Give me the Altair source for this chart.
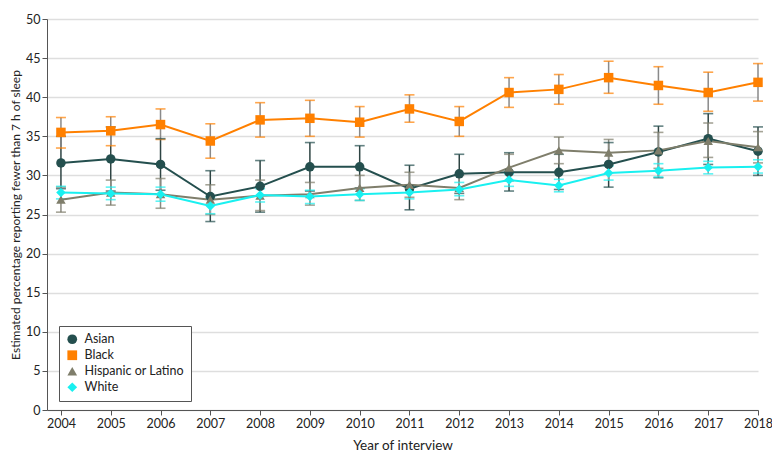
import altair as alt
import pandas as pd

years = list(range(2004, 2019))
groups = ["Asian", "Black", "Hispanic or Latino", "White"]

asian = [31.6, 32.1, 31.4, 27.3, 28.6, 31.1, 31.1, 28.3, 30.2, 30.4, 30.4, 31.4, 33.0, 34.7, 33.1]
asian_lo = [28.3, 28.0, 28.1, 24.1, 25.3, 28.0, 28.4, 25.6, 27.7, 28.0, 28.2, 28.5, 29.7, 31.4, 30.0]
asian_hi = [35.0, 36.2, 34.7, 30.6, 31.9, 34.2, 33.8, 31.3, 32.7, 32.9, 32.7, 34.2, 36.3, 37.9, 36.2]

black = [35.5, 35.7, 36.5, 34.4, 37.1, 37.3, 36.8, 38.5, 36.9, 40.6, 41.0, 42.5, 41.5, 40.6, 41.9]
black_lo = [33.5, 33.8, 34.6, 32.2, 34.9, 35.0, 34.9, 36.8, 35.0, 38.7, 39.1, 40.5, 39.1, 38.2, 39.5]
black_hi = [37.4, 37.5, 38.5, 36.6, 39.3, 39.6, 38.8, 40.3, 38.8, 42.5, 42.9, 44.6, 43.9, 43.2, 44.3]

hisp = [26.9, 27.8, 27.6, 26.9, 27.4, 27.6, 28.4, 28.8, 28.4, 31.0, 33.2, 32.9, 33.2, 34.4, 33.6]
hisp_lo = [25.3, 26.2, 25.8, 25.0, 25.5, 26.2, 26.8, 27.2, 26.9, 29.3, 31.5, 31.3, 30.9, 32.3, 31.6]
hisp_hi = [28.5, 29.4, 29.6, 28.8, 29.4, 29.1, 30.0, 30.4, 30.0, 32.7, 34.9, 34.6, 35.5, 36.7, 35.6]

white = [27.8, 27.7, 27.6, 26.1, 27.5, 27.3, 27.6, 27.8, 28.2, 29.4, 28.7, 30.3, 30.6, 31.0, 31.1]
white_lo = [27.0, 26.9, 26.7, 25.1, 26.6, 26.4, 26.8, 27.0, 27.4, 28.6, 27.9, 29.4, 29.8, 30.2, 30.3]
white_hi = [28.6, 28.5, 28.5, 27.1, 28.3, 28.1, 28.3, 28.6, 29.1, 30.2, 29.5, 31.2, 31.5, 31.8, 32.0]

colors = ["#244f4e", "#ff8000", "#7f7e6b", "#19f0f0"]
bar_colors = ["#2e4443", "#8a8a8a", "#8a8a80", "#9a9a9a"]
shapes = ["circle", "square", "triangle-up", "diamond"]

series = [(asian, asian_lo, asian_hi), (black, black_lo, black_hi),
          (hisp, hisp_lo, hisp_hi), (white, white_lo, white_hi)]

rows = []
for g, (v, lo, hi), bc in zip(groups, series, bar_colors):
    for y, a, l, h in zip(years, v, lo, hi):
        rows.append({"year": y, "group": g, "value": a, "lo": l, "hi": h, "barcolor": bc})
df = pd.DataFrame(rows)

font = "Lato"
ytitle = "Estimated percentage reporting fewer than 7 h of sleep"

x = alt.X("year:Q", title="Year of interview",
          scale=alt.Scale(domain=[2003.72, 2018], nice=False, zero=False),
          axis=alt.Axis(values=years, format="d", grid=False, labelFlush=False,
                        labelOverlap=False, tickSize=5, titlePadding=9,
                        titleFontSize=13.5))
yscale = alt.Scale(domain=[0, 50], nice=False)
yaxis = alt.Axis(values=list(range(0, 51, 5)), grid=True, tickSize=5,
                 labelOverlap=False, titlePadding=3, titleFontSize=12)

def Y(field):
    return alt.Y(field, title=ytitle, scale=yscale, axis=yaxis)

color_scale = alt.Scale(domain=groups, range=colors)
shape_scale = alt.Scale(domain=groups, range=shapes)
leg = alt.Legend(title=None, orient="none", legendX=12, legendY=307)

base = alt.Chart(df)

bars = base.mark_rule(strokeWidth=1.5).encode(
    x=x, y=Y("lo:Q"), y2="hi:Q",
    color=alt.Color("barcolor:N", scale=None),
)
caps_lo = base.mark_tick(orient="horizontal", size=10, thickness=1.6).encode(
    x=x, y=Y("lo:Q"),
    color=alt.Color("group:N", scale=color_scale, legend=leg),
)
caps_hi = base.mark_tick(orient="horizontal", size=10, thickness=1.6).encode(
    x=x, y=Y("hi:Q"),
    color=alt.Color("group:N", scale=color_scale, legend=leg),
)
lines = base.mark_line(strokeWidth=2).encode(
    x=x, y=Y("value:Q"),
    color=alt.Color("group:N", scale=color_scale, legend=leg),
    detail="group:N",
)
points = base.mark_point(filled=True, opacity=1, size=90).encode(
    x=x, y=Y("value:Q"),
    color=alt.Color("group:N", scale=color_scale, legend=leg),
    shape=alt.Shape("group:N", scale=shape_scale, legend=leg),
)

chart = alt.layer(bars, caps_lo, caps_hi, lines, points).properties(
    width=711, height=391,
    autosize=alt.AutoSizeParams(type="none"),
    padding={"left": 39, "top": 11, "right": 14, "bottom": 50},
    background="white",
).configure_view(stroke=None).configure_axis(
    labelFont=font, titleFont=font, labelFontSize=12.5, titleFontSize=12.5,
    labelColor="#222", titleColor="#222", titleFontWeight="normal",
    domainColor="#555", tickColor="#555", gridColor="#dedede", gridWidth=1.5,
    labelPadding=2,
).configure_legend(
    labelFont=font, labelFontSize=12.5, labelColor="#222",
    strokeColor="#555", fillColor="white", padding=7, rowPadding=3,
    symbolSize=95, symbolStrokeWidth=0, symbolOpacity=1, labelOffset=6,
)

chart.save("out.html", embed_options={"renderer": "svg", "actions": False})
